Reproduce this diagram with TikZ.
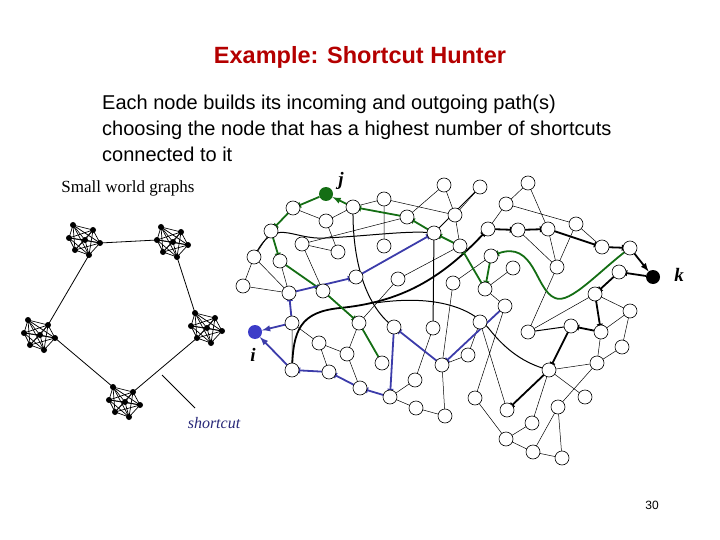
\documentclass[tikz,border=0pt]{standalone}
\usepackage{fontspec}
\setmainfont{Liberation Sans}
\newfontfamily\tms{Liberation Serif}
\begin{document}
\begin{tikzpicture}[x=1pt,y=-1pt,
 nd/.style={circle,draw,fill=white,inner sep=0pt,minimum size=14pt,line width=0.6pt},
 tn/.style={line width=0.5pt},
 md/.style={line width=1pt},
 gr/.style={draw={rgb,255:red,20;green,110;blue,20},line width=1.8pt,-latex},
 bl/.style={draw={rgb,255:red,60;green,60;blue,170},line width=1.8pt,-latex},
 bk/.style={line width=1.8pt,-latex},
 dot/.style={circle,fill=black,inner sep=0pt,minimum size=6pt}]
\useasboundingbox (0,0) rectangle (720,540);
\node[font=\bfseries\fontsize{23.5}{27}\selectfont,text={rgb,255:red,180;green,0;blue,0}] (title) at (360,57) {Example: Shortcut Hunter};
\node[font=\fontsize{20}{26}\selectfont,anchor=north west,align=left,inner sep=0pt] (body) at (102,95) {Each node builds its incoming and outgoing path(s)\\choosing the node that has a highest number of shortcuts\\connected to it};
\node[font=\tms\fontsize{17}{19}\selectfont] (swg) at (128,188) {Small world graphs};
\node[font=\tms\itshape\fontsize{16}{18}\selectfont,text={rgb,255:red,40;green,40;blue,120}] (sc) at (214,423) {shortcut};
\node[font=\fontsize{12}{14}\selectfont] (pg) at (652,505) {30};
% clusters
\foreach \cx/\cy/\nm in {85/240/A,173/242/B,207/328/C,125/402/D,40/335/E}{
 \begin{scope}[shift={(\cx,\cy)}]
  \foreach \p/\q [count=\k] in {-12/-15,8/-10,15/3,4/15,-10/10,-16/-2,0/0}{\coordinate (\nm\k) at (\p,\q);}
  \foreach \a in {1,...,7}{\foreach \b in {1,...,7}{\ifnum\a<\b \draw[line width=0.7pt] (\nm\a)--(\nm\b);\fi}}
  \foreach \k in {1,...,7}{\node[dot] at (\nm\k) {};}
 \end{scope}}
\draw[line width=0.8pt] (A3)--(B6) (A4)--(E2) (E3)--(D1) (D2)--(C5) (C1)--(B4);
\coordinate (s1) at (162,375); \coordinate (s2) at (195,408);
\draw[line width=0.8pt] (s1)--(s2);
% nodes
\foreach \n/\x/\y in {a1/293/208,a2/353/207,a3/326/221,a4/384/199,a5/444/185,a6/407/217,a7/455/215,a8/271/231,a9/302/244,a10/338/252,a11/384/246,a12/434/233,a13/460/246,a14/254/257,a15/280/261,a16/243/286,a17/289/293,a18/323/291,a19/356/277,a20/398/279,a21/453/283,
b1/480/187,b2/528/183,b3/506/204,b4/488/229,b5/518/230,b6/548/229,b7/576/224,b8/602/247,b9/630/248,b10/619/272,b11/595/294,b12/557/267,b13/491/256,b14/513/268,b15/485/289,b16/505/306,b17/630/311,
c1/292/323,c2/292/370,c3/319/343,c4/347/354,c5/329/372,c6/360/388,c7/390/397,c8/359/323,c9/382/363,c10/394/327,c11/433/328,c12/442/365,c13/415/380,c14/416/408,c15/445/416,c16/468/355,c17/475/398,c18/480/322,
d4/528/332,d5/571/326,d6/601/332,d7/622/347,d9/597/363,d10/549/370,d12/507/410,d13/585/397,d14/558/407,d15/532/423,d16/506/439,d17/533/452,d18/562/458}
 {\coordinate (\n) at (\x,\y);}
\node[circle,fill={rgb,255:red,20;green,110;blue,20},inner sep=0pt,minimum size=14pt] (j) at (326,194) {};
\node[circle,fill=black,inner sep=0pt,minimum size=14pt] (k) at (653,277) {};
\node[circle,fill={rgb,255:red,60;green,60;blue,200},inner sep=0pt,minimum size=14pt] (i) at (255,332) {};
\node[font=\tms\bfseries\itshape\fontsize{19}{20}\selectfont] (jl) at (341,181) {j};
\node[font=\tms\bfseries\itshape\fontsize{19}{20}\selectfont] (kl) at (679,275) {k};
\node[font=\tms\bfseries\itshape\fontsize{19}{20}\selectfont] (il) at (253,355) {i};
% thin edges
\draw[tn] (a1)--(a3) (a3)--(a2) (a2)--(a4) (a4)--(a7) (a5)--(a7) (a5)--(a6) (a4)--(a11) (a3)--(a10) (a9)--(a10) (a7)--(a13) (a7)--(b1)
 (a8)--(a14) (a14)--(a16) (a14)--(a17) (a16)--(a17) (a15)--(a17) (a9)--(a18) (a20)--(a13) (a20)--(c8) (a6)--(a9)
 (b2)--(b3) (b2)--(b6) (b3)--(b4) (b3)--(b7) (b6)--(b12) (b7)--(b12) (b7)--(b8) (b5)--(b12) (b12)--(d4) (b14)--(b15) (b15)--(b16)
 (c1)--(c2) (c1)--(c3) (c3)--(c4) (c3)--(c5) (c4)--(c6) (c8)--(c4) (c11)--(c13) (c13)--(c7) (c7)--(c14) (c14)--(c15) (c15)--(c12) (c12)--(c16) (c16)--(c18) (a21)--(c12) (a17)--(c1)
 (d4)--(b11) (b16)--(c17) (c18)--(d12) (c17)--(d16) (d16)--(d15) (d15)--(d10) (d10)--(d9) (d16)--(d17) (d17)--(d18) (d18)--(d14) (d14)--(d9) (d10)--(d13) (d17)--(d14) (d9)--(d7) (d7)--(b17) (b17)--(d6) (d6)--(d9) (b13)--(a21) (b11)--(b17);
% medium/thick curves
\draw[md] (a14) .. controls (275,215) and (290,240) .. (325,238) .. controls (370,236) and (410,230) .. (a12);
\draw[md] (a2) .. controls (352,270) and (370,310) .. (c10);
\draw[md] (a12)--(c11);
\draw[md] (d5)--(d4);
\draw[md] (b1)--(a12);
\draw[md] (375,303) .. controls (430,295) and (470,305) .. (490,330) .. controls (510,355) and (530,365) .. (d10);
\draw[bk] (c2) .. controls (293,330) and (300,312) .. (340,308) .. controls (400,302) and (440,280) .. (b4);
% green
\draw[gr] (j)--(a1); \draw[gr] (a1)--(a8); \draw[gr] (a8)--(a15); \draw[gr] (a15)--(a18); \draw[gr] (a18)--(c8);
\draw[gr,-] (c9)--(c8);
\draw[gr] (a2)--(j); \draw[gr] (a6)--(a2); \draw[gr] (a12)--(a6); \draw[gr] (a13)--(a12);
\draw[gr] (b9) .. controls (600,270) and (570,305) .. (555,298) .. controls (535,290) and (535,240) .. (b13);
\draw[gr] (b13)--(b15); \draw[gr] (b15)--(a13);
% blue
\draw[bl] (c1)--(i); \draw[bl] (c2)--(i); \draw[bl] (c5)--(c2); \draw[bl] (c6)--(c5); \draw[bl] (c7)--(c6);
\draw[bl] (c10)--(c7); \draw[bl] (c12)--(c10); \draw[bl] (b16)--(c12);
\draw[bl] (c1)--(a17); \draw[bl] (a17)--(a19); \draw[bl] (a19)--(a12);
% black arrows
\draw[bk] (b4)--(b5); \draw[bk] (b5)--(b6); \draw[bk] (b6)--(b8); \draw[bk] (b8)--(b9); \draw[bk] (b9)--(k);
\draw[bk] (k)--(b10); \draw[bk] (b10)--(b11); \draw[bk] (b11)--(d6); \draw[bk] (d6)--(d5); \draw[bk] (d5)--(d10); \draw[bk] (d10)--(d12);
% node circles
\foreach \n in {a1,a2,a3,a4,a5,a6,a7,a8,a9,a10,a11,a12,a13,a14,a15,a16,a17,a18,a19,a20,a21,b1,b2,b3,b4,b5,b6,b7,b8,b9,b10,b11,b12,b13,b14,b15,b16,b17,c1,c2,c3,c4,c5,c6,c7,c8,c9,c10,c11,c12,c13,c14,c15,c16,c17,c18,d4,d5,d6,d7,d9,d10,d12,d13,d14,d15,d16,d17,d18}
 {\node[nd] at (\n) {};}
\end{tikzpicture}
\end{document}
